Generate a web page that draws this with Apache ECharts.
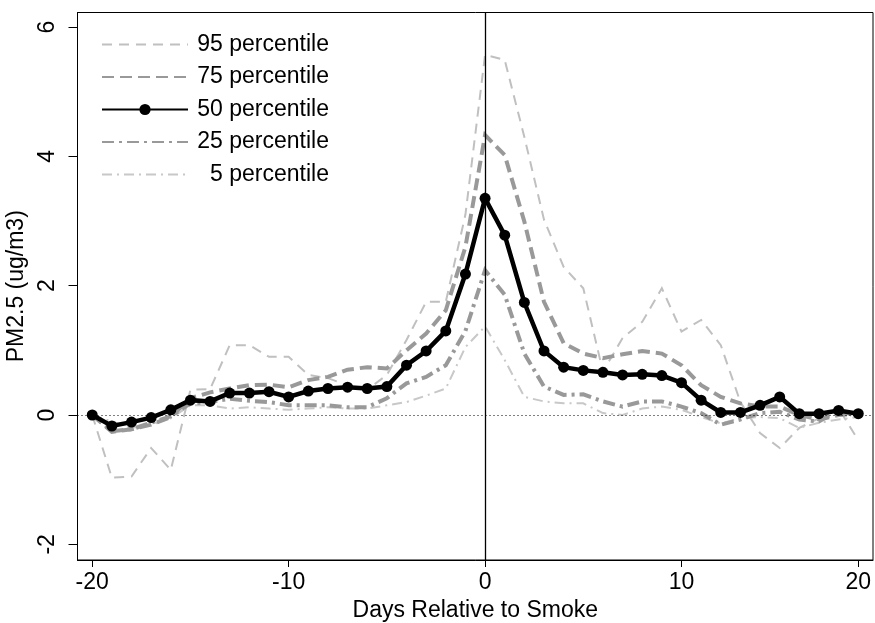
<!DOCTYPE html>
<html><head><meta charset="utf-8">
<script src="https://cdn.jsdelivr.net/npm/echarts@6/dist/echarts.min.js"></script>
<style>html,body{margin:0;padding:0;background:#fff}#c{width:875px;height:623px}</style>
</head><body><div id="c"></div>
<script>
const days = [-20,-19,-18,-17,-16,-15,-14,-13,-12,-11,-10,-9,-8,-7,-6,-5,-4,-3,-2,-1,
              0,1,2,3,4,5,6,7,8,9,10,11,12,13,14,15,16,17,18,19];
const p95 = [0,-0.97,-0.95,-0.51,-0.85,0.39,0.40,1.08,1.08,0.90,0.90,0.62,0.57,0.46,0.39,0.62,1.16,1.75,1.75,3.10,
             5.57,5.49,4.30,3.02,2.29,1.96,0.67,1.19,1.44,1.96,1.29,1.47,1.08,0.20,-0.28,-0.51,-0.20,-0.05,0.10,-0.39];
const p75 = [0,-0.26,-0.22,-0.15,-0.03,0.26,0.35,0.41,0.46,0.47,0.43,0.54,0.59,0.70,0.74,0.72,1.00,1.26,1.62,2.60,
             4.33,4.02,2.99,1.75,1.11,0.95,0.88,0.94,0.99,0.95,0.77,0.46,0.28,0.18,0.13,0.13,0.00,-0.07,0.00,0.02];
const p50 = [0,-0.17,-0.11,-0.04,0.08,0.23,0.21,0.34,0.34,0.36,0.28,0.37,0.41,0.43,0.41,0.44,0.77,0.99,1.30,2.18,
             3.35,2.78,1.74,0.99,0.74,0.69,0.66,0.62,0.63,0.61,0.50,0.23,0.04,0.04,0.15,0.28,0.02,0.02,0.07,0.02];
const p25 = [0,-0.25,-0.22,-0.12,-0.02,0.18,0.20,0.25,0.22,0.20,0.15,0.15,0.15,0.12,0.12,0.26,0.49,0.59,0.77,1.30,
             2.24,1.86,0.95,0.44,0.31,0.32,0.21,0.13,0.21,0.21,0.13,0.03,-0.15,-0.07,0.03,0.05,-0.07,-0.10,0.08,-0.03];
const p5  = [0,-0.10,-0.20,-0.15,-0.05,0.15,0.15,0.10,0.12,0.10,0.08,0.10,0.12,0.10,0.10,0.15,0.20,0.30,0.41,1.05,
             1.37,0.85,0.28,0.21,0.18,0.18,0.03,0.00,0.10,0.13,0.08,-0.03,-0.13,-0.05,-0.03,-0.05,-0.20,-0.12,-0.07,-0.03];
const seriesNames = ['95 percentile','75 percentile','50 percentile','25 percentile','5 percentile'];
const xTickValues = [-20,-10,0,10,19];
const xTickLabels = ['-20','-10','0','10','20'];
const yTickValues = [-2,0,2,4,6];
const xTitle = 'Days Relative to Smoke';
const yTitle = 'PM2.5 (ug/m3)';

const FONT = '"Liberation Sans", Arial, Helvetica, sans-serif';
const pts = arr => days.map((d,i)=>[d, arr[i]]);
const chart = echarts.init(document.getElementById('c'), null, {renderer:'canvas'});
const styles = [
  {color:'#c0c0c0', width:2, type:[10,7], z:2},
  {color:'#999999', width:4, type:[12,6], z:3},
  {color:'#000000', width:4.5, type:'solid', z:6},
  {color:'#999999', width:4, type:[12,5,3,5], z:4},
  {color:'#c8c8c8', width:2, type:[10,5,2,5], z:2}
];
const datas = [p95,p75,p50,p25,p5];
const series = datas.map((arr,k)=>{
  const s = styles[k];
  return {
    name: seriesNames[k], type:'line', data: pts(arr), z: s.z,
    symbol: k===2 ? 'circle' : 'none', symbolSize: 11, showSymbol: k===2,
    itemStyle:{color:s.color},
    lineStyle:{color:s.color, width:s.width, type:s.type, cap:'butt', join:'miter'},
    emphasis:{disabled:true}, animation:false
  };
});
series.push({
  type:'line', data:[], silent:true, z:1,
  markLine:{
    silent:true, symbol:['none','none'], label:{show:false}, animation:false,
    data:[
      {yAxis:0, lineStyle:{color:'#000', width:1, type:[1,3]}},
      {xAxis:0, lineStyle:{color:'#000', width:1.3, type:'solid'}}
    ]
  }
});
chart.setOption({
  backgroundColor:'#fff',
  animation:false,
  textStyle:{fontFamily:FONT},
  grid:{left:77.5, right:2, top:12.5, bottom:63, show:true, borderColor:'#000', borderWidth:1,
        backgroundColor:'transparent', containLabel:false, outerBoundsMode:'none'},
  legend:{
    orient:'vertical', left:96, top:28, itemWidth:86, itemHeight:14, itemGap:9.5,
    data: seriesNames.map((n,k)=> k===2 ? {name:n} : {name:n, itemStyle:{opacity:0}}),
    formatter: n => '{a|' + n + '}',
    textStyle:{color:'#000', fontFamily:FONT, fontSize:23,
      rich:{a:{width:136, align:'right', fontSize:23, fontFamily:FONT, color:'#000', lineHeight:22}}},
    selectedMode:false
  },
  xAxis:{
    type:'value', min:-20.75, max:19.75,
    axisLine:{show:true, onZero:false, lineStyle:{color:'#000', width:1}},
    axisTick:{show:true, length:7, customValues:xTickValues, lineStyle:{color:'#000'}},
    axisLabel:{show:true, customValues:xTickValues, color:'#000', fontSize:23, fontFamily:FONT, margin:11,
      formatter: v => xTickLabels[xTickValues.indexOf(v)]},
    splitLine:{show:false},
    name:xTitle, nameLocation:'middle', nameGap:39,
    nameTextStyle:{color:'#000', fontSize:23, fontFamily:FONT}
  },
  yAxis:{
    type:'value', min:-2.242, max:6.224,
    axisLine:{show:true, onZero:false, lineStyle:{color:'#000', width:1}},
    axisTick:{show:true, length:9, customValues:yTickValues, lineStyle:{color:'#000'}},
    axisLabel:{show:true, customValues:yTickValues, rotate:90, color:'#000', fontSize:23, fontFamily:FONT, margin:18,
      formatter: v => String(v)},
    splitLine:{show:false},
    name:yTitle, nameLocation:'middle', nameGap:46, nameRotate:90,
    nameTextStyle:{color:'#000', fontSize:23, fontFamily:FONT}
  },
  series: series
});
</script>
</body></html>
